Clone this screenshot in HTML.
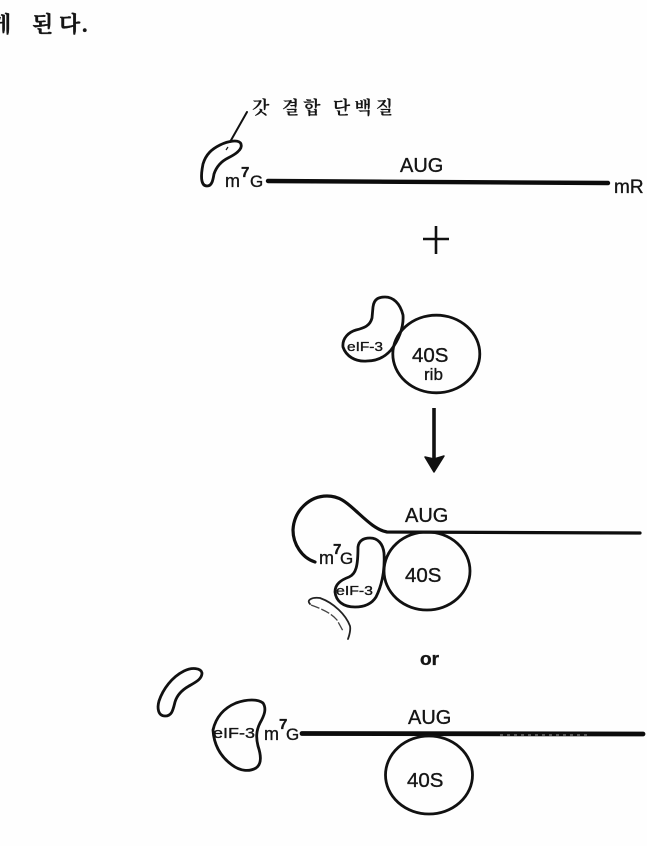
<!DOCTYPE html>
<html lang="ko"><head><meta charset="utf-8"><style>
html,body{margin:0;padding:0;background:#fefefe;width:647px;height:846px;overflow:hidden}
svg{display:block;position:absolute;left:0;top:0;filter:blur(.35px)}
text{font-family:"Liberation Sans","Noto Sans CJK KR",sans-serif;fill:#151515;stroke:#151515;stroke-width:.35}
.k{font-family:"Liberation Serif","Noto Serif CJK SC",serif}
.o{fill:none;stroke:#111;stroke-width:2.8;stroke-linejoin:round;stroke-linecap:round}
</style></head><body>
<svg width="647" height="846" viewBox="0 0 647 846" xmlns="http://www.w3.org/2000/svg">
<g font-size="22" font-weight="700">
<text class="k" x="-10" y="32">게</text><text class="k" x="32" y="32">된</text><text class="k" x="59" y="32">다</text><text class="k" x="82" y="32">.</text>
</g>
<text class="k" x="252" y="114" font-size="18" textLength="141" lengthAdjust="spacing" font-weight="700" style="stroke-width:0">갓 결합 단백질</text>
<path d="M247 112L230 142" fill="none" stroke="#111" stroke-width="2" stroke-linecap="round"/>
<path class="o" d="M207 186C200 186 201 174 203 164C206 154 212 149 220 145C228 141 239 139 241 144C243 150 234 155 228 158C220 162 216 168 214 174C213 180 212 186 207 186Z"/>
<path d="M228 147L226 150" fill="none" stroke="#111" stroke-width="1.2"/>
<text x="225" y="187" font-size="18">m</text><text x="241" y="177" font-size="15" font-weight="700">7</text><text x="250" y="187" font-size="17">G</text>
<path d="M268 181L608 183" stroke="#0c0c0c" stroke-width="4.4" stroke-linecap="round"/>
<text x="400" y="172" font-size="20">AUG</text>
<text x="614" y="193" font-size="19">mR</text>
<path d="M423 239H449M436 226V254" stroke="#111" stroke-width="2.6" fill="none"/>

<path class="o" d="M373 307C374 298 380 297 385 297C393 297 400 303 403 315C404 328 398 341 391 350C384 358 376 361 367 361C355 362 346 356 343 347C342 338 349 332 356 330C364 328 370 326 372 318Z"/>
<ellipse class="o" cx="436.3" cy="354" rx="43.5" ry="38.8"/>
<text x="347" y="351" font-size="13" textLength="36" lengthAdjust="spacingAndGlyphs">eIF-3</text>
<text x="412" y="362" font-size="20.5">40S</text>
<text x="424" y="380" font-size="17">rib</text>

<path d="M434 408V462" stroke="#111" stroke-width="3.6" fill="none"/>
<path d="M425 457L434 472L444 456L434 459Z" fill="#111" stroke="#111" stroke-width="1.5" stroke-linejoin="round"/>

<path d="M315 562C302 558 293 544 293 530C294 510 310 496 327 496C340 496 347 503 356 511C366 520 376 530 387 532L640 533" fill="none" stroke="#0e0e0e" stroke-width="3.2" stroke-linecap="round"/>
<text x="405" y="522" font-size="20">AUG</text>
<text x="319" y="564" font-size="18">m</text><text x="333" y="554" font-size="15" font-weight="700">7</text><text x="340" y="564" font-size="17">G</text>
<path class="o" d="M358 547C359 540 364 538 370 538C378 538 383 544 384 553C385 570 382 585 376 597C371 605 363 607 355 607C343 607 336 601 335 592C335 584 341 580 349 577C356 574 358 566 358 547Z"/>
<text x="336" y="595" font-size="13" textLength="37" lengthAdjust="spacingAndGlyphs">eIF-3</text>
<ellipse class="o" cx="427" cy="571" rx="43" ry="39"/>
<text x="405" y="582" font-size="20.5">40S</text>
<path d="M310 604C306 600 312 597 320 598C334 603 346 615 350 626C351 631 349 636 348 639" fill="none" stroke="#222" stroke-width="1.8" stroke-linecap="round"/>
<path d="M311 605C322 609 331 613 337 620L343 631" fill="none" stroke="#444" stroke-width="1.3" stroke-dasharray="9 2"/>

<text x="420" y="665" font-size="18" font-weight="700" textLength="19" lengthAdjust="spacingAndGlyphs">or</text>

<path class="o" d="M165 716C158 716 157 708 159 701C163 689 172 677 184 671C192 667 201 668 202 673C202 679 196 682 189 686C182 690 177 695 175 702C173 710 172 716 165 716Z"/>
<path class="o" d="M213 730C216 717 224 708 236 703C247 699 258 699 263 703C267 709 264 716 260 723C256 731 256 738 258 746C261 755 262 764 256 768C249 772 240 771 232 765C221 757 214 746 213 730Z"/>
<text x="213" y="738" font-size="15" textLength="42" lengthAdjust="spacingAndGlyphs">eIF-3</text>
<text x="264" y="740" font-size="18">m</text><text x="279" y="729" font-size="15" font-weight="700">7</text><text x="286" y="740" font-size="17">G</text>
<path d="M302 733.5L643 734" stroke="#0c0c0c" stroke-width="4.8" stroke-linecap="round"/>
<path d="M500 735H590" stroke="#fff" stroke-width="1" stroke-dasharray="3 4" opacity=".6"/>
<text x="408" y="724" font-size="20">AUG</text>
<ellipse class="o" cx="429" cy="775" rx="43.5" ry="39"/>
<text x="407" y="787" font-size="20.5">40S</text>
</svg>
</body></html>
